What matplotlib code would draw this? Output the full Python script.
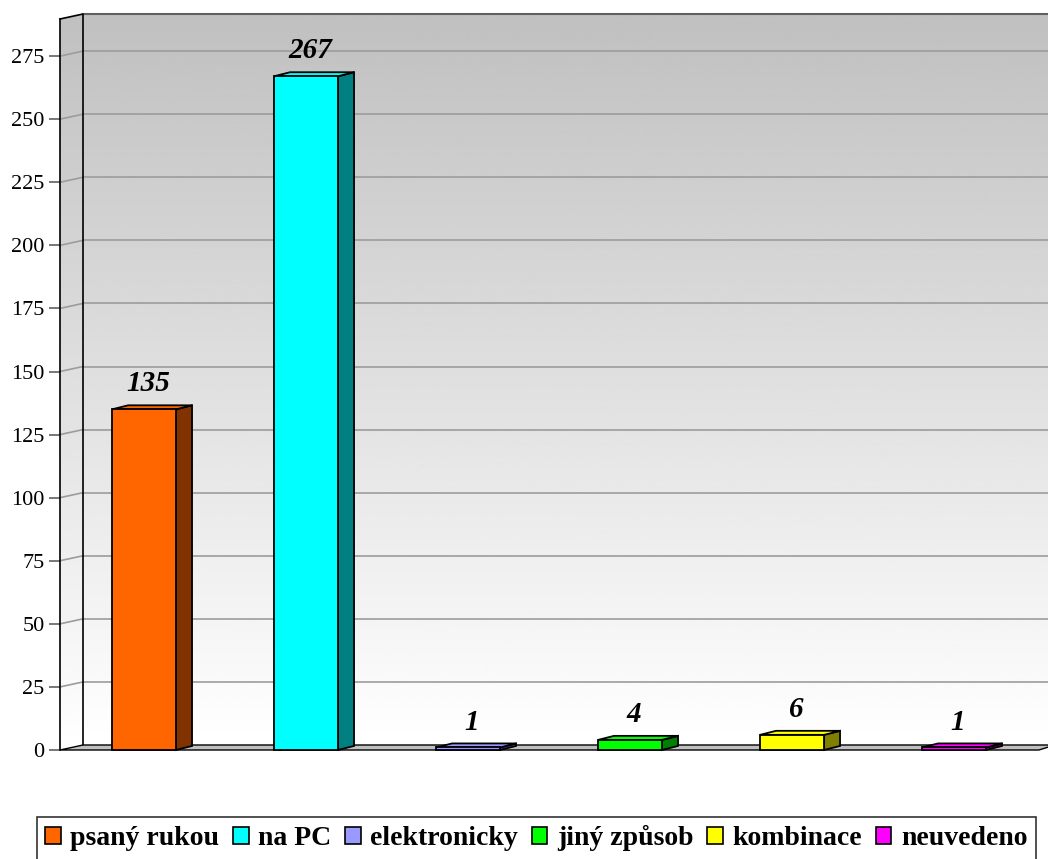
import matplotlib.pyplot as plt
import numpy as np
from matplotlib.patches import Polygon, Rectangle

plt.rcParams['font.family'] = ['Liberation Serif', 'DejaVu Serif']

categories = ['psaný rukou', 'na PC', 'elektronicky', 'jiný způsob', 'kombinace', 'neuvedeno']
values = [135, 267, 1, 4, 6, 1]
front_colors = ['#ff6600', '#00ffff', '#9999ff', '#00ff00', '#ffff00', '#ff00ff']
side_colors = ['#803300', '#008080', '#4d4d80', '#008000', '#808000', '#800080']
yticks = np.arange(0, 276, 25)

W, H = 1048, 859
fig = plt.figure(figsize=(W / 100, H / 100), dpi=100)
fig.patch.set_facecolor('white')

# front frame of the plot area in pixels
left_px, right_px, top_px, base_px = 60, 1032, 19, 750
ymax = 289.7
ax = fig.add_axes([left_px / W, (H - base_px) / H,
                   (right_px - left_px) / W, (base_px - top_px) / H])
ax.set_xlim(0, len(categories))
ax.set_ylim(0, ymax)
ax.patch.set_visible(False)

# wall depth (data units)
DX = 23 / 162
DY = 5 / 2.5236
# bar geometry (data units)
bar_off, bar_w = 0.321, 0.395
bdx, bdy = 0.099, 1.6

n = len(categories)

# back wall and left wall, grey at the top fading to white at the floor
grad = np.linspace(192, 255, 256).reshape(-1, 1)
back = Polygon([(DX, DY), (n + DX, DY), (n + DX, ymax + DY), (DX, ymax + DY)],
               closed=True, facecolor='none', edgecolor='none')
side = Polygon([(0, 0), (DX, DY), (DX, ymax + DY), (0, ymax)],
               closed=True, facecolor='none', edgecolor='none')
for wall, ext in [(back, (DX, n + DX, DY, ymax + DY)), (side, (0, DX, 0, ymax + DY))]:
    ax.add_patch(wall)
    im = ax.imshow(grad, cmap='gray', vmin=0, vmax=255, extent=ext,
                   aspect='auto', origin='upper', zorder=0, interpolation='bilinear')
    im.set_clip_path(wall)
    im.set_clip_box(fig.bbox)

# gridlines on both walls
for v in yticks[1:]:
    ax.plot([DX, n + DX], [v + DY, v + DY], color='#9c9c9c', lw=1.2, zorder=1, clip_on=False)
    ax.plot([0, DX], [v, v + DY], color='#9c9c9c', lw=1.2, zorder=1, clip_on=False)

# wall edges
ax.plot([DX, n + DX], [ymax + DY, ymax + DY], color='#606060', lw=1.5, zorder=1, clip_on=False)
ax.plot([0, DX, DX], [ymax, ymax + DY, DY], color='black', lw=1.2, zorder=2, clip_on=False)

# floor
floor = Polygon([(0, 0), (n + DX * 0.3, 0), (n + DX, DY), (DX, DY)], closed=True,
                facecolor='#c0c0c0', edgecolor='black', lw=1.0, zorder=2, clip_on=False)
ax.add_patch(floor)

# 3D bars
for i, (v, fc, sc) in enumerate(zip(values, front_colors, side_colors)):
    x0 = i + bar_off
    x1 = x0 + bar_w
    front = Rectangle((x0, 0), bar_w, v, facecolor=fc, edgecolor='black',
                      lw=1.3, zorder=4, clip_on=False)
    side_face = Polygon([(x1, 0), (x1 + bdx, bdy), (x1 + bdx, v + bdy), (x1, v)],
                        closed=True, facecolor=sc, edgecolor='black', lw=1.3,
                        zorder=3, clip_on=False)
    top_face = Polygon([(x0, v), (x1, v), (x1 + bdx, v + bdy), (x0 + bdx, v + bdy)],
                       closed=True, facecolor=fc, edgecolor='black', lw=1.3,
                       zorder=3, clip_on=False)
    ax.add_patch(side_face)
    ax.add_patch(top_face)
    ax.add_patch(front)
    ax.annotate(str(v), xy=(x0 + bar_w / 2 + bdx / 4, v + bdy), xytext=(0, 10),
                textcoords='offset points', ha='center', va='baseline',
                fontsize=21, fontweight='bold', fontstyle='italic', zorder=5,
                annotation_clip=False)

# front y axis
for s in ['top', 'right', 'bottom']:
    ax.spines[s].set_visible(False)
ax.spines['left'].set_color('black')
ax.spines['left'].set_linewidth(1.2)
ax.spines['left'].set_zorder(6)
ax.set_xticks([])
ax.set_yticks(yticks)
ax.tick_params(axis='y', direction='out', length=8, width=1.2, color='#606060',
               labelsize=16, pad=3)

# legend along the bottom
handles = [Rectangle((0, 0), 1, 1, facecolor=c, edgecolor='black', lw=1.2)
           for c in front_colors]
leg = fig.legend(handles, categories, loc='upper left',
                 bbox_to_anchor=(37 / W, 1 - 817 / H), ncol=6, frameon=True,
                 fancybox=False, shadow=False, handlelength=0.55, handleheight=0.55,
                 handletextpad=0.35, columnspacing=0.5, borderpad=0.3,
                 borderaxespad=0, prop={'size': 20, 'weight': 'bold'})
leg.get_frame().set_edgecolor('black')
leg.get_frame().set_linewidth(1.2)

fig.savefig('out.png', dpi=100)
